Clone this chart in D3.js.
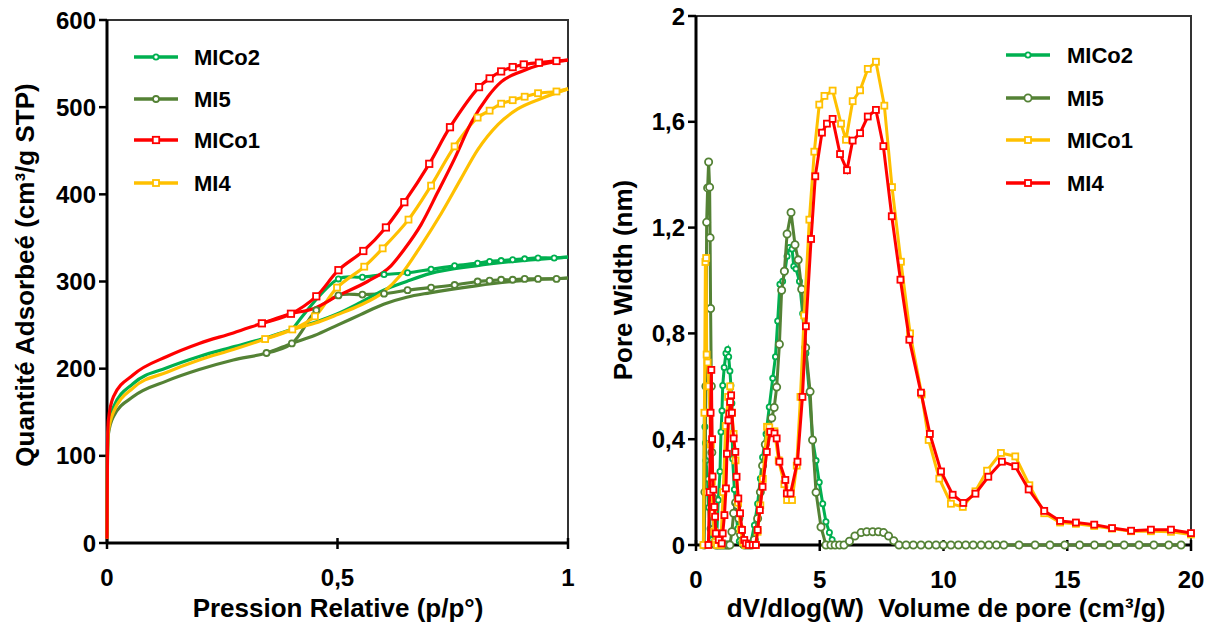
<!DOCTYPE html>
<html><head><meta charset="utf-8">
<script src="https://cdn.jsdelivr.net/npm/d3@7"></script>
<style>body{margin:0;background:#fff}svg{display:block}text{font-family:"Liberation Sans",Arial,sans-serif;font-weight:bold;fill:#000}</style>
</head><body>
<script>
// ---------- Left chart: isotherms (p/p°, cm³/g STP) ----------
const isoTickX = [0, 0.5, 1];
const isoTickY = [0, 100, 200, 300, 400, 500, 600];
const iso_MICo2_ads = [[0,5],[0.001,100],[0.003,133],[0.014,156],[0.057,183],[0.13,201],[0.2,214],[0.274,225],[0.336,234],[0.4,245],[0.45,253],[0.5,263],[0.55,276],[0.6,290],[0.65,300],[0.7,309],[0.8,318],[0.9,324],[1.0,328]];
const iso_MICo2_des = [[1.0,328],[0.97,327],[0.935,327],[0.906,326],[0.88,325],[0.855,324],[0.83,323],[0.804,321],[0.754,318],[0.703,314],[0.652,310],[0.601,308],[0.554,305],[0.502,303],[0.402,245]];
const iso_MI5_ads = [[0,5],[0.001,95],[0.003,125],[0.014,145],[0.057,168],[0.13,186],[0.2,199],[0.274,210],[0.346,218],[0.401,229],[0.45,238],[0.5,250],[0.55,262],[0.6,274],[0.65,282],[0.7,287],[0.8,295],[0.9,301],[1.0,304]];
const iso_MI5_des = [[1.0,304],[0.975,303],[0.935,303],[0.906,303],[0.88,302],[0.855,302],[0.83,301],[0.804,300],[0.754,296],[0.703,293],[0.652,290],[0.601,286],[0.554,285],[0.502,284],[0.454,267],[0.401,229],[0.346,218]];
const iso_MICo1_ads = [[0,5],[0.001,110],[0.003,141],[0.014,168],[0.057,193],[0.13,214],[0.2,229],[0.274,241],[0.336,252],[0.399,263],[0.449,269],[0.502,284],[0.565,300],[0.616,318],[0.645,337],[0.681,365],[0.717,402],[0.754,441],[0.79,482],[0.826,512],[0.855,529],[0.899,541],[0.942,549],[1.0,554]];
const iso_MICo1_des = [[1.0,554],[0.975,553],[0.937,551],[0.904,549],[0.88,546],[0.855,541],[0.83,533],[0.807,523],[0.744,477],[0.699,435],[0.645,391],[0.605,362],[0.556,335],[0.502,313],[0.454,283],[0.399,263],[0.336,252]];
const iso_MI4_ads = [[0,5],[0.001,100],[0.003,128],[0.014,150],[0.057,178],[0.13,196],[0.2,210],[0.274,222],[0.343,234],[0.402,245],[0.45,252],[0.5,262],[0.55,273],[0.6,288],[0.638,308],[0.681,341],[0.725,378],[0.768,418],[0.804,451],[0.848,480],[0.891,498],[0.942,510],[1.0,521]];
const iso_MI4_des = [[1.0,521],[0.975,518],[0.935,516],[0.906,512],[0.88,508],[0.855,504],[0.83,496],[0.804,488],[0.754,455],[0.703,410],[0.654,371],[0.598,338],[0.558,317],[0.499,293],[0.451,260],[0.402,245],[0.343,234]];

// ---------- Right chart: pore distribution ----------
const poreTickX = [0, 5, 10, 15, 20];
const poreTickY = [0, 0.4, 0.8, 1.2, 1.6, 2];
const pore_MICo2_w = [0.3,0.34,0.36,0.38,0.40,0.47,0.51,0.57,0.65,0.74,0.82,0.9,0.97,1.01,1.05,1.08,1.14,1.21,1.28,1.32,1.37,1.41,1.45,1.48,1.55,1.62,1.68,1.75,1.89,2.05,2.2,2.36,2.49,2.6,2.69,2.83,2.96,3.1,3.21,3.3,3.39,3.5,3.6,3.68,3.77,3.88,3.95,4.04,4.18,4.31,4.44,4.58,4.71,4.85,4.98,5.12,5.25,5.39,5.5,5.66,5.85];
const pore_MICo2_v = [0,0.502,0.447,0.386,0.319,0.25,0.142,0.061,0.02,0,0,0.17,0.278,0.427,0.508,0.603,0.671,0.725,0.739,0.712,0.658,0.603,0.536,0.326,0.21,0.129,0.061,0.014,0,0,0,0.075,0.156,0.251,0.332,0.42,0.522,0.63,0.712,0.847,0.986,0.997,1.037,1.092,1.125,1.119,1.054,1.044,0.997,0.875,0.725,0.576,0.4,0.319,0.237,0.156,0.088,0.047,0.02,0,0];
const pore_MI5_w = [0.33,0.36,0.40,0.43,0.47,0.51,0.55,0.57,0.59,0.62,0.64,0.67,0.71,0.75,0.8,0.86,0.93,1.0,1.08,1.16,1.24,1.3,1.37,1.45,1.52,1.6,1.67,1.73,1.8,1.88,1.95,2.05,2.15,2.25,2.36,2.49,2.6,2.69,2.8,2.92,3.06,3.16,3.26,3.37,3.46,3.57,3.68,3.84,4.0,4.13,4.27,4.43,4.61,4.71,4.85,5.05,5.25,5.45,5.62,5.8,5.98,6.2,6.42,6.67,6.9,7.14,7.37,7.58,7.78,7.99,8.2,8.49,8.78,9.09,9.4,9.7,9.99,10.3,10.6,10.9,11.2,11.52,11.83,12.14,12.44,13.05,13.7,14.3,14.9,15.5,16.1,16.7,17.3,17.9,18.5,19.1,19.6];
const pore_MI5_v = [0,0.2,0.6,1.22,1.35,1.448,1.353,1.162,0.894,0.6,0.35,0.18,0.06,0.01,0,0,0,0,0,0,0,0,0,0.05,0.12,0.16,0.15,0.1,0.04,0.01,0,0,0,0,0.02,0.1,0.2,0.3,0.38,0.427,0.48,0.52,0.597,0.759,0.963,1.035,1.176,1.257,1.135,1.078,0.967,0.746,0.58,0.397,0.199,0.068,0,0,0,0,0,0.014,0.034,0.047,0.05,0.05,0.05,0.047,0.034,0.016,0,0,0,0,0,0,0,0,0,0,0,0,0,0,0,0,0,0,0,0,0,0,0,0,0,0,0];
const pore_MICo1_w = [0.3,0.34,0.38,0.41,0.43,0.47,0.52,0.56,0.6,0.64,0.68,0.73,0.78,0.85,1.0,1.1,1.2,1.3,1.38,1.45,1.52,1.6,1.7,1.8,1.9,2.0,2.2,2.4,2.49,2.6,2.7,2.87,2.96,3.17,3.34,3.57,3.68,3.88,4.07,4.22,4.37,4.58,4.78,4.98,5.19,5.52,5.86,6.06,6.33,6.63,6.94,7.27,7.61,7.92,8.28,8.65,9.12,9.4,9.83,10.3,10.78,11.29,11.76,12.32,12.9,13.47,14.07,14.71,15.35,16.09,16.81,17.58,18.38,19.19,20];
const pore_MICo1_v = [0,0.5,1.07,1.085,0.72,0.69,0.6,0.5,0.38,0.24,0.12,0.05,0.01,0,0,0.2,0.45,0.56,0.6,0.5,0.42,0.32,0.16,0.06,0.01,0,0,0,0.05,0.15,0.25,0.447,0.445,0.43,0.32,0.23,0.17,0.17,0.3,0.56,0.868,1.23,1.487,1.665,1.698,1.718,1.593,1.532,1.678,1.719,1.8,1.827,1.661,1.353,1.071,0.8,0.569,0.397,0.251,0.156,0.144,0.203,0.281,0.348,0.335,0.226,0.12,0.085,0.08,0.072,0.062,0.052,0.052,0.05,0.04];
const pore_MI4_w = [0.5,0.55,0.59,0.62,0.65,0.67,0.7,0.74,0.77,0.8,0.92,1.04,1.08,1.15,1.21,1.25,1.31,1.35,1.38,1.42,1.45,1.52,1.59,1.64,1.71,1.78,1.86,1.95,2.02,2.13,2.29,2.42,2.49,2.58,2.69,2.86,3.0,3.17,3.26,3.37,3.61,3.67,3.82,4.1,4.3,4.44,4.65,4.82,5.09,5.29,5.52,5.82,6.1,6.33,6.63,6.94,7.27,7.57,7.91,8.26,8.62,9.09,9.45,9.9,10.37,10.8,11.29,11.81,12.36,12.9,13.44,14.07,14.71,15.35,16.09,16.81,17.58,18.38,19.19,20];
const pore_MI4_v = [0,0.2,0.5,0.662,0.4,0.259,0.209,0.144,0.107,0.044,0.019,0.006,0.044,0.113,0.214,0.345,0.471,0.497,0.541,0.566,0.5,0.403,0.352,0.258,0.176,0.12,0.057,0.019,0.006,0,0,0,0.057,0.132,0.22,0.352,0.428,0.422,0.403,0.315,0.246,0.195,0.195,0.315,0.56,0.827,1.157,1.394,1.559,1.593,1.611,1.478,1.417,1.529,1.557,1.62,1.645,1.508,1.243,1.003,0.776,0.576,0.42,0.278,0.19,0.159,0.194,0.258,0.315,0.298,0.21,0.129,0.091,0.085,0.077,0.064,0.054,0.058,0.058,0.045];

const colors = {MICo2:"#00b050", MI5:"#548235", red:"#ff0000", yellow:"#ffc000"};
const comma = d => String(d).replace('.', ',');
const TICK_FS = 24, TITLE_FS = 26, LEG_FS = 22;

const svg = d3.select("body").append("svg").attr("width",1217).attr("height",628);

function marker(g, pts, x, y, shape, color, size) {
  if (shape === "circle") {
    g.selectAll(null).data(pts).enter().append("circle")
      .attr("cx", d => x(d[0])).attr("cy", d => y(d[1])).attr("r", size)
      .attr("fill", "#fff").attr("stroke", color).attr("stroke-width", 1.8);
  } else {
    g.selectAll(null).data(pts).enter().append("rect")
      .attr("x", d => x(d[0]) - size).attr("y", d => y(d[1]) - size)
      .attr("width", 2*size).attr("height", 2*size)
      .attr("fill", "#fff").attr("stroke", color).attr("stroke-width", 1.8);
  }
}

function frame(x, y, xt, yt, fmt) {
  const [x0, x1] = x.range(), [y0, y1] = y.range();
  const g = svg.append("g");
  g.append("rect").attr("x", x0).attr("y", y1).attr("width", x1-x0).attr("height", y0-y1)
    .attr("fill","none").attr("stroke","#333").attr("stroke-width",2);
  g.append("line").attr("x1",x0).attr("x2",x0).attr("y1",y0).attr("y2",y1).attr("stroke","#000").attr("stroke-width",3);
  g.append("line").attr("x1",x0).attr("x2",x1).attr("y1",y0).attr("y2",y0).attr("stroke","#000").attr("stroke-width",3);
  yt.forEach(t => {
    g.append("line").attr("x1",x0-8).attr("x2",x0).attr("y1",y(t)).attr("y2",y(t)).attr("stroke","#000").attr("stroke-width",2.5);
    g.append("text").attr("x",x0-11).attr("y",y(t)).attr("dy","0.36em").attr("text-anchor","end").attr("font-size",TICK_FS).text(fmt(t));
  });
  xt.forEach(t => {
    g.append("line").attr("x1",x(t)).attr("x2",x(t)).attr("y1",y0-5).attr("y2",y0+6).attr("stroke","#000").attr("stroke-width",2.5);
    g.append("text").attr("x",x(t)).attr("y",y0+43).attr("text-anchor","middle").attr("font-size",TICK_FS).text(fmt(t));
  });
}

// ---------- Left ----------
const xL = d3.scaleLinear().domain([0,1]).range([107,568]);
const yL = d3.scaleLinear().domain([0,600]).range([543,20]);
frame(xL, yL, isoTickX, isoTickY, comma);
const smooth = d3.line().x(d => xL(d[0])).y(d => yL(d[1])).curve(d3.curveMonotoneX);
const smoothD = d3.line().x(d => xL(d[0])).y(d => yL(d[1])).curve(d3.curveCatmullRom.alpha(0.5));
const gl = svg.append("g");
const leftSeries = [
  {ads: iso_MI5_ads, des: iso_MI5_des, c: colors.MI5, s: "circle", r: 3},
  {ads: iso_MICo2_ads, des: iso_MICo2_des, c: colors.MICo2, s: "circle", r: 2.6},
  {ads: iso_MI4_ads, des: iso_MI4_des, c: colors.yellow, s: "rect", r: 3},
  {ads: iso_MICo1_ads, des: iso_MICo1_des, c: colors.red, s: "rect", r: 3.2}
];
leftSeries.forEach(s => {
  gl.append("path").attr("d", smooth(s.ads)).attr("fill","none").attr("stroke",s.c).attr("stroke-width",3.2);
  gl.append("path").attr("d", smoothD(s.des)).attr("fill","none").attr("stroke",s.c).attr("stroke-width",3.2);
});
leftSeries.forEach(s => marker(gl, s.des.slice(1), xL, yL, s.s, s.c, s.r));

// left legend
const legL = [["MICo2",colors.MICo2,"circle",2.6],["MI5",colors.MI5,"circle",3],["MICo1",colors.red,"rect",3.2],["MI4",colors.yellow,"rect",3]];
const legLy = [57,99,140,183];
legL.forEach((l,i) => {
  const g = svg.append("g");
  g.append("line").attr("x1",134).attr("x2",178).attr("y1",legLy[i]).attr("y2",legLy[i]).attr("stroke",l[1]).attr("stroke-width",3.5);
  marker(g, [[156,legLy[i]]], d=>d, d=>d, l[2], l[1], l[3]);
  g.append("text").attr("x",194).attr("y",legLy[i]).attr("dy","0.36em").attr("font-size",LEG_FS).text(l[0]);
});
svg.append("text").attr("x",338).attr("y",617).attr("text-anchor","middle").attr("font-size",TITLE_FS).text("Pression Relative (p/p°)");
svg.append("text").attr("transform","translate(34,275) rotate(-90)").attr("text-anchor","middle").attr("font-size",TITLE_FS).text("Quantité Adsorbeé (cm³/g STP)");

// ---------- Right ----------
const xR = d3.scaleLinear().domain([0,20]).range([696,1191]);
const yR = d3.scaleLinear().domain([0,2]).range([545,16]);
frame(xR, yR, poreTickX, poreTickY, comma);
const lin = d3.line().x(d => xR(d[0])).y(d => yR(d[1]));
const gr = svg.append("g");
const zip = (w, v) => w.map((x, i) => [x, v[i]]);
const rightSeries = [
  {d: zip(pore_MICo2_w, pore_MICo2_v), c: colors.MICo2, s: "circle", r: 2.6},
  {d: zip(pore_MI5_w, pore_MI5_v), c: colors.MI5, s: "circle", r: 3.6},
  {d: zip(pore_MICo1_w, pore_MICo1_v), c: colors.yellow, s: "rect", r: 3},
  {d: zip(pore_MI4_w, pore_MI4_v), c: colors.red, s: "rect", r: 3}
];
rightSeries.forEach(s => {
  gr.append("path").attr("d", lin(s.d)).attr("fill","none").attr("stroke",s.c).attr("stroke-width",3);
  marker(gr, s.d, xR, yR, s.s, s.c, s.r);
});
const legR = [["MICo2",colors.MICo2,"circle",2.6],["MI5",colors.MI5,"circle",3.6],["MICo1",colors.yellow,"rect",3],["MI4",colors.red,"rect",3]];
const legRy = [55,98,140,183];
legR.forEach((l,i) => {
  const g = svg.append("g");
  g.append("line").attr("x1",1006).attr("x2",1050).attr("y1",legRy[i]).attr("y2",legRy[i]).attr("stroke",l[1]).attr("stroke-width",3.5);
  marker(g, [[1028,legRy[i]]], d=>d, d=>d, l[2], l[1], l[3]);
  g.append("text").attr("x",1067).attr("y",legRy[i]).attr("dy","0.36em").attr("font-size",LEG_FS).text(l[0]);
});
svg.append("text").attr("x",946).attr("y",617).attr("text-anchor","middle").attr("font-size",TITLE_FS).attr("xml:space","preserve").text("dV/dlog(W)  Volume de pore (cm³/g)");
svg.append("text").attr("transform","translate(632,280) rotate(-90)").attr("text-anchor","middle").attr("font-size",TITLE_FS).text("Pore Width (nm)");
</script>
</body></html>
